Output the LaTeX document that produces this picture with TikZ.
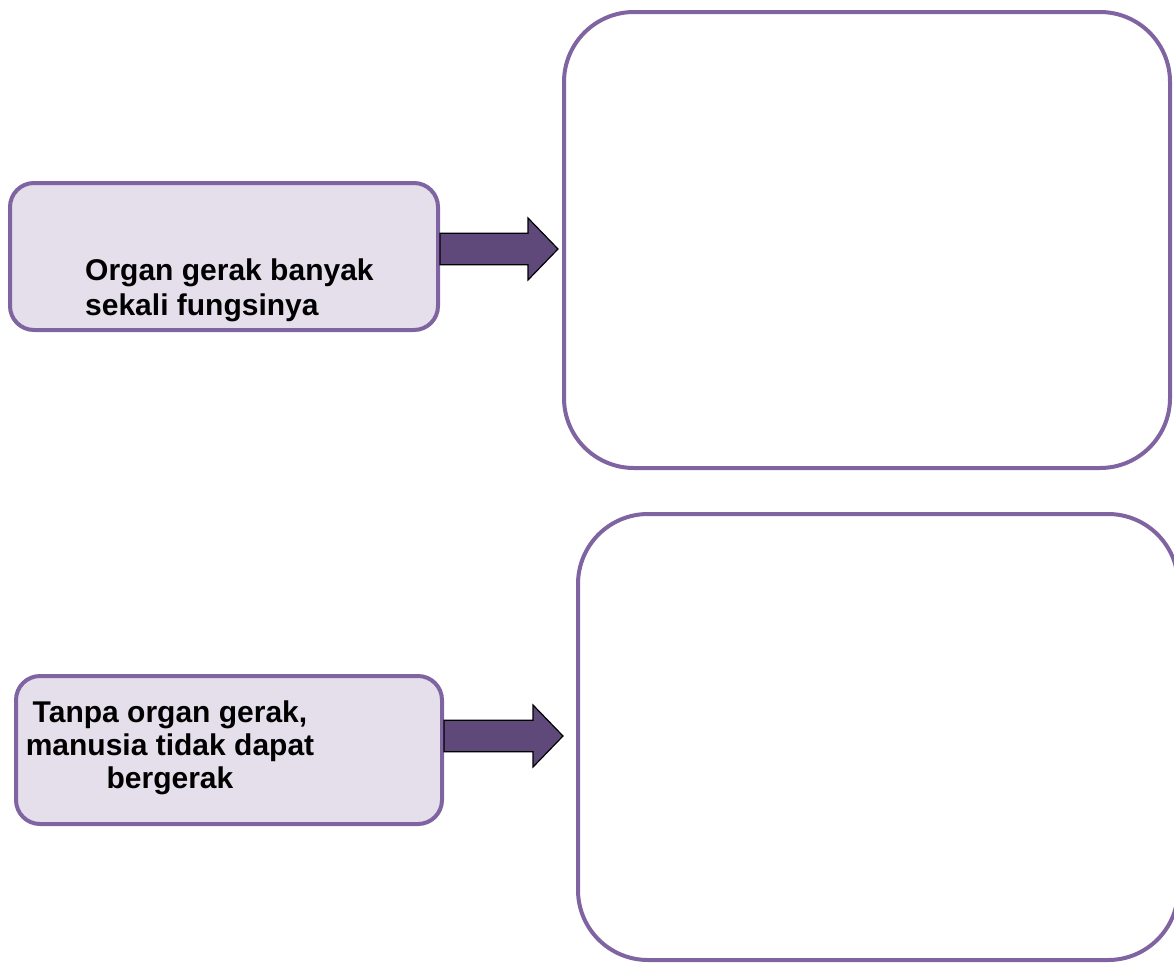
\documentclass[tikz,border=0pt]{standalone}
\usepackage{fontspec}
\setmainfont{Liberation Sans}
\usetikzlibrary{calc, positioning}
\definecolor{BoxLine}{HTML}{8064A2}
\definecolor{BoxFill}{HTML}{E5DFEC}
\definecolor{ArrowFill}{HTML}{5F497A}

\begin{document}
\begin{tikzpicture}[x=1pt, y=-1pt,
        smallbox/.style={draw=BoxLine, fill=BoxFill, line width=4pt, rounded corners=24pt},
        bigbox/.style={draw=BoxLine, fill=white, line width=4pt, rounded corners=70pt},
        boxtext/.style={font=\fontsize{30}{34}\selectfont\bfseries, inner sep=0pt},
        blockarrow/.style={draw=black, fill=ArrowFill, line width=1.2pt, line join=miter}]
        % Parameters
        \def\ShaftW{15.7}
        \def\HeadW{31}
        \def\HeadL{30}

        \useasboundingbox (0,0) rectangle (1174,964);

        % 1. Left boxes (statements)
        \node[smallbox, minimum width=428pt, minimum height=147pt] (organ) at (224,256.5) {};
        \node[smallbox, minimum width=426pt, minimum height=148pt] (tanpa) at (229,750) {};

        % 2. Right boxes (empty answers)
        \node[bigbox, minimum width=606pt, minimum height=456pt] (fungsi) at (867,240) {};
        \node[bigbox, minimum width=600pt, minimum height=446pt] (gerak) at (878,737) {};

        % Texts
        \node[boxtext, anchor=north west, align=left] (organtxt) at (85,259) {Organ gerak banyak\\[1pt]sekali fungsinya};
        \node[boxtext, anchor=north, align=center] (tanpatxt) at (170,701) {Tanpa organ gerak,\\[-1pt]manusia tidak dapat\\[-1pt]bergerak};

        % 3. Block arrows
        \coordinate (a1s) at (organ.east |- 0,249);
        \coordinate (a1t) at (558,249);
        \coordinate (a2s) at (tanpa.east |- 0,736);
        \coordinate (a2t) at (563,736);
        \foreach \s/\t in {a1s/a1t, a2s/a2t} {
            \draw[blockarrow] ($(\s)+(0,-\ShaftW)$) -- ($(\t)+(-\HeadL,-\ShaftW)$) -- ($(\t)+(-\HeadL,-\HeadW)$)
                -- (\t) -- ($(\t)+(-\HeadL,\HeadW)$) -- ($(\t)+(-\HeadL,\ShaftW)$) -- ($(\s)+(0,\ShaftW)$) -- cycle;
        }

    \end{tikzpicture}
\end{document}
